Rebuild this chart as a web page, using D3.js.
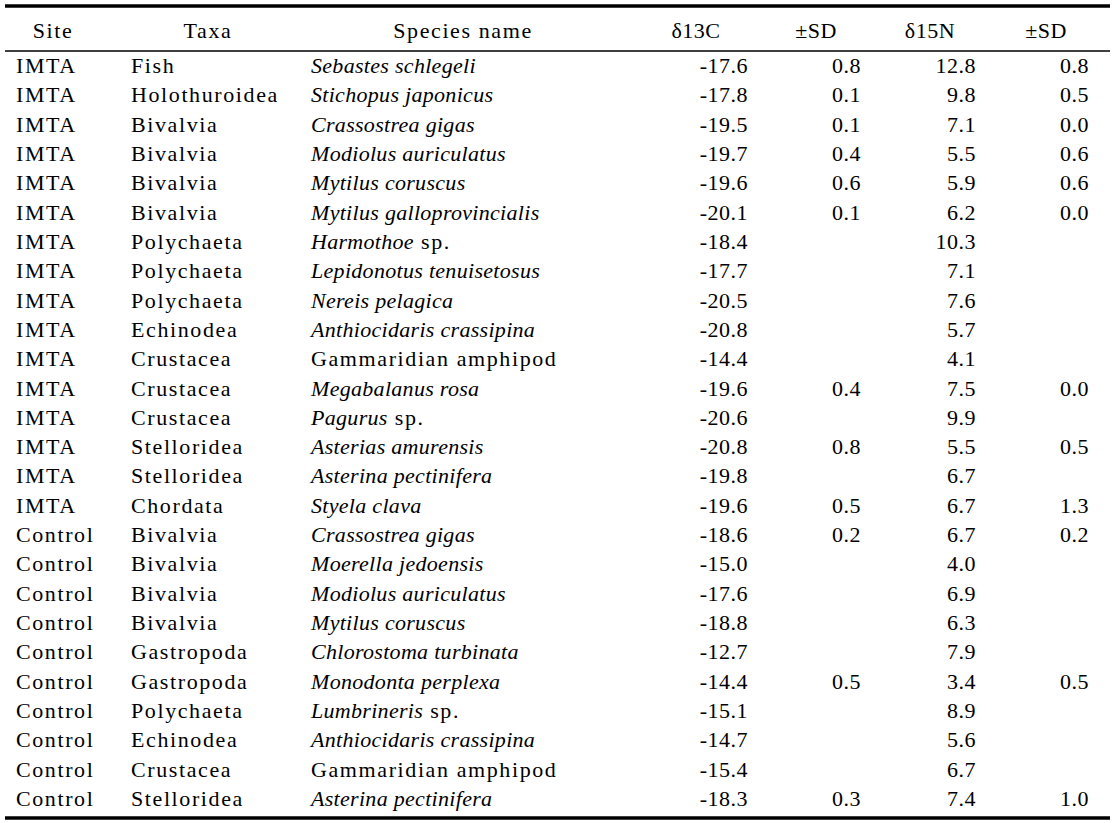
<!DOCTYPE html>
<html><head><meta charset="utf-8">
<script src="https://cdn.jsdelivr.net/npm/d3@7"></script>
<style>
html,body{margin:0;padding:0;background:#fff;}
svg{display:block;}
text{font-family:"Liberation Serif","Times New Roman",serif;font-size:22px;fill:#000;}
text.txt{letter-spacing:1.6px;}
text.num{letter-spacing:0.5px;}
tspan.it{font-style:italic;letter-spacing:0.3px;}
</style></head>
<body><svg id="c" width="1115" height="823"></svg>
<script>
const headers = ["Site","Taxa","Species name","\u03b413C","\u00b1SD","\u03b415N","\u00b1SD"];
const sites = ["IMTA","IMTA","IMTA","IMTA","IMTA","IMTA","IMTA","IMTA","IMTA","IMTA","IMTA","IMTA","IMTA","IMTA","IMTA","IMTA",
  "Control","Control","Control","Control","Control","Control","Control","Control","Control","Control"];
const taxa = ["Fish","Holothuroidea","Bivalvia","Bivalvia","Bivalvia","Bivalvia","Polychaeta","Polychaeta","Polychaeta","Echinodea","Crustacea","Crustacea","Crustacea","Stelloridea","Stelloridea","Chordata",
  "Bivalvia","Bivalvia","Bivalvia","Bivalvia","Gastropoda","Gastropoda","Polychaeta","Echinodea","Crustacea","Stelloridea"];
const species = ["Sebastes schlegeli","Stichopus japonicus","Crassostrea gigas","Modiolus auriculatus","Mytilus coruscus","Mytilus galloprovincialis","Harmothoe sp.","Lepidonotus tenuisetosus","Nereis pelagica","Anthiocidaris crassipina","Gammaridian amphipod","Megabalanus rosa","Pagurus sp.","Asterias amurensis","Asterina pectinifera","Styela clava",
  "Crassostrea gigas","Moerella jedoensis","Modiolus auriculatus","Mytilus coruscus","Chlorostoma turbinata","Monodonta perplexa","Lumbrineris sp.","Anthiocidaris crassipina","Gammaridian amphipod","Asterina pectinifera"];
const uprightNames = ["Gammaridian amphipod"];
const d13C = [-17.6,-17.8,-19.5,-19.7,-19.6,-20.1,-18.4,-17.7,-20.5,-20.8,-14.4,-19.6,-20.6,-20.8,-19.8,-19.6,
  -18.6,-15.0,-17.6,-18.8,-12.7,-14.4,-15.1,-14.7,-15.4,-18.3];
const sdC = [0.8,0.1,0.1,0.4,0.6,0.1,null,null,null,null,null,0.4,null,0.8,null,0.5,
  0.2,null,null,null,null,0.5,null,null,null,0.3];
const d15N = [12.8,9.8,7.1,5.5,5.9,6.2,10.3,7.1,7.6,5.7,4.1,7.5,9.9,5.5,6.7,6.7,
  6.7,4.0,6.9,6.3,7.9,3.4,8.9,5.6,6.7,7.4];
const sdN = [0.8,0.5,0.0,0.6,0.6,0.0,null,null,null,null,null,0.0,null,0.5,null,1.3,
  0.2,null,null,null,null,0.5,null,null,null,1.0];

const svg = d3.select("#c");
const n = sites.length;
const y = d3.scaleLinear().domain([0, n-1]).range([73, 806]);
const fmt = d3.format(".1f");

// rules
svg.append("line").attr("x1",5).attr("x2",1110).attr("y1",6).attr("y2",6).attr("stroke","#000").attr("stroke-width",3.5);
svg.append("line").attr("x1",5).attr("x2",1110).attr("y1",51).attr("y2",51).attr("stroke","#000").attr("stroke-width",1.5);
svg.append("line").attr("x1",5).attr("x2",1110).attr("y1",818).attr("y2",818).attr("stroke","#000").attr("stroke-width",3.5);

// header
const hx = [53,208,463,696,816,930,1046];
svg.selectAll("text.h").data(headers).join("text").attr("class",(d,i)=>i<3?"h txt":"h num")
  .attr("x",(d,i)=>hx[i]).attr("y",38).attr("text-anchor","middle").text(d=>d);

const rows = d3.range(n);
const g = svg.append("g");
g.selectAll("text.site").data(rows).join("text").attr("class","site txt")
  .attr("x",16).attr("y",i=>y(i)).text(i=>sites[i]);
g.selectAll("text.taxa").data(rows).join("text").attr("class","taxa txt")
  .attr("x",131).attr("y",i=>y(i)).text(i=>taxa[i]);
const sp = g.selectAll("text.sp").data(rows).join("text").attr("class","sp txt")
  .attr("x",311).attr("y",i=>y(i));
sp.each(function(i){
  const t = d3.select(this), name = species[i];
  if (uprightNames.includes(name)) { t.text(name); return; }
  const m = name.match(/^(.*?)( sp\.)$/);
  if (m) {
    t.append("tspan").attr("class","it").text(m[1]);
    t.append("tspan").text(m[2]);
  } else {
    t.append("tspan").attr("class","it").text(name);
  }
});
const numCols = [[d13C,748],[sdC,861],[d15N,976],[sdN,1089]];
numCols.forEach(([arr,xr])=>{
  g.selectAll(null).data(rows.filter(i=>arr[i]!==null)).join("text").attr("class","num")
    .attr("x",xr).attr("y",i=>y(i)).attr("text-anchor","end").text(i=>fmt(arr[i]).replace("\u2212","-"));
});
</script></body></html>
